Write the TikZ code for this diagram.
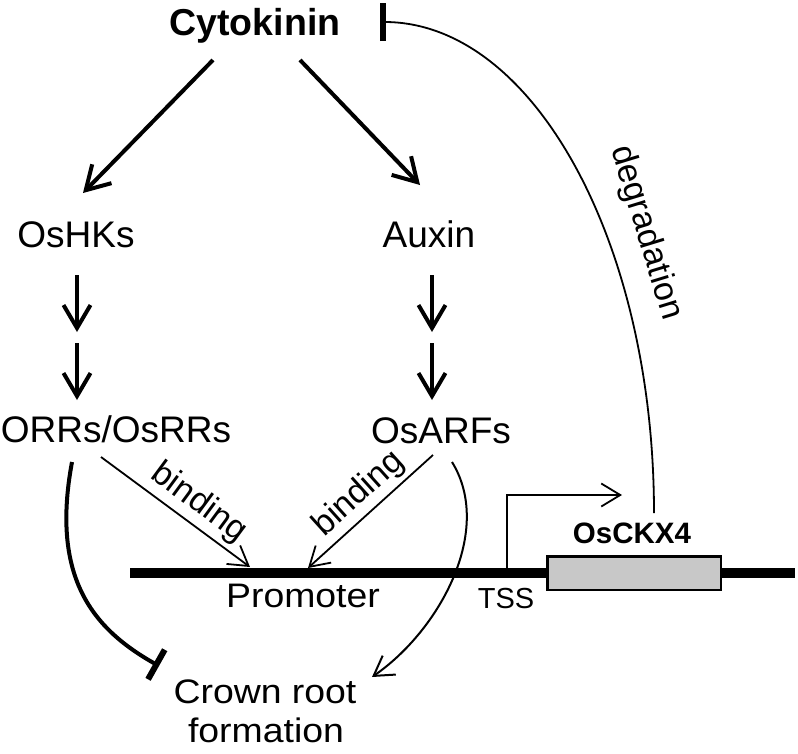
\documentclass[tikz,border=0pt]{standalone}
\usepackage{fontspec}
\setmainfont{Liberation Sans}
\usetikzlibrary{arrows.meta}
\definecolor{genefill}{HTML}{C8C8C8}
\begin{document}
\begin{tikzpicture}[x=1pt,y=-1pt,
  lbl/.style={inner sep=0pt, anchor=base, font=\fontsize{37}{44}\selectfont},
  wide/.style={inner sep=0pt, anchor=base, font=\fontsize{34}{40}\selectfont},
  thickarr/.style={line width=4pt, -{Straight Barb[length=23pt,width=27pt]}},
  thinarr/.style={line width=1.8pt, -{Straight Barb[length=19pt,width=23pt]}},
  inhib/.style={line width=4pt, -{Bar[width=34pt,line width=6pt]}},
  blbl/.style={inner sep=0pt, font=\fontsize{34}{40}\selectfont}
]
\useasboundingbox (0,0) rectangle (798,753);

% text nodes
\node[lbl, font=\bfseries\fontsize{37.5}{44}\selectfont] (cyto) at (255,35) {Cytokinin};
\node[lbl] (hk) at (76,247) {OsHKs};
\node[lbl] (aux) at (429,247) {Auxin};
\node[lbl] (rr) at (116,442) {ORRs/OsRRs};
\node[lbl] (arf) at (441,443) {OsARFs};
\node[wide] (prom) at (303,607) {\scalebox{1.1}[1]{Promoter}};
\node[wide] (crown) at (265,703) {\scalebox{1.1}[1]{Crown root}};
\node[wide] (crown2) at (266,742) {\scalebox{1.1}[1]{formation}};
\node[lbl, font=\fontsize{29}{35}\selectfont] (tss) at (506,608) {TSS};

% DNA and gene
\coordinate (dnaL) at (130,573);
\coordinate (dnaR) at (795,573);
\draw[line width=10pt] (dnaL) -- (dnaR);
\node[draw, fill=genefill, line width=2.5pt, minimum width=173.5pt, minimum height=33.5pt, inner sep=0pt] (gene) at (634,573) {};
\node[lbl, font=\bfseries\fontsize{29.5}{35}\selectfont] (ckx) at (632,543) {OsCKX4};

% cytokinin arrows
\coordinate (c1) at (213,60);
\coordinate (hkT) at (83,193);
\coordinate (c2) at (300,60);
\coordinate (auxT) at (420,185);
\draw[thickarr] (c1) -- (hkT);
\draw[thickarr] (c2) -- (auxT);

% double arrows
\coordinate (hkB) at (77,275);
\coordinate (hkM1) at (77,332);
\coordinate (hkM2) at (77,343);
\coordinate (rrT) at (77,400);
\draw[thickarr] (hkB) -- (hkM1);
\draw[thickarr] (hkM2) -- (rrT);
\coordinate (auxB) at (432,275);
\coordinate (auxM1) at (432,332);
\coordinate (auxM2) at (432,343);
\coordinate (arfT) at (432,400);
\draw[thickarr] (auxB) -- (auxM1);
\draw[thickarr] (auxM2) -- (arfT);

% binding arrows
\coordinate (rrB) at (101,457);
\coordinate (promL) at (250,567);
\coordinate (arfB) at (433,455);
\coordinate (promR) at (308,568);
\draw[thinarr] (rrB) -- (promL);
\draw[thinarr] (arfB) -- (promR);
\node[blbl, rotate=-36.4] (bind1) at (199,503) {binding};
\node[blbl, rotate=42] (bind2) at (359,494) {binding};

% inhibition ORRs -> crown root
\coordinate (rrB2) at (72,462);
\coordinate (crownI) at (159,666);
\draw[inhib] (rrB2) .. controls (50,580) and (95,630) .. (crownI);

% OsARFs -> crown root
\coordinate (arfB2) at (452,462);
\coordinate (crownA) at (372,677);
\draw[thinarr, line width=2pt] (arfB2) .. controls (494,530) and (440,630) .. (crownA);

% TSS arrow
\coordinate (tssB) at (507,573);
\coordinate (tssC) at (507,495);
\coordinate (tssT) at (622,495);
\draw[thinarr, line join=miter] (tssB) -- (tssC) -- (tssT);

% degradation
\coordinate (cytoBar) at (380,22);
\coordinate (ckxTop) at (654,513);
\draw[line width=1.8pt, {Bar[width=38pt,line width=6pt]}-] (cytoBar) .. controls (533,22) and (654,242) .. (ckxTop);
\node[blbl, rotate=-73] (deg) at (646,233) {degradation};
\end{tikzpicture}
\end{document}
